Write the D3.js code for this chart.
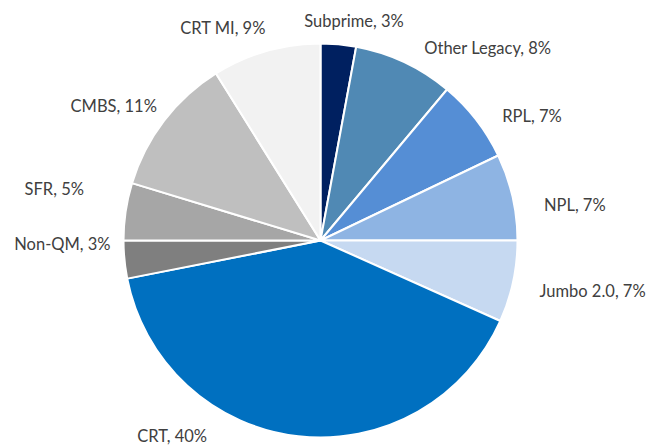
<!DOCTYPE html>
<html>
<head>
<meta charset="utf-8">
<script src="https://cdn.jsdelivr.net/npm/d3@7/dist/d3.min.js"></script>
<style>
  html, body { margin: 0; padding: 0; background: #ffffff; }
  svg { display: block; }
</style>
</head>
<body>
<div id="chart"></div>
<script>
// ---- data ----
const categories = ["Subprime", "Other Legacy", "RPL", "NPL", "Jumbo 2.0", "CRT", "Non-QM", "SFR", "CMBS", "CRT MI"];
const shares = [2.9, 8.2, 6.8, 7.1, 6.7, 40.2, 3.1, 4.7, 11.4, 8.9];
const colors = ["#002060", "#5089B4", "#558ED5", "#8EB4E3", "#C6D9F1", "#0070C0", "#7F7F7F", "#A6A6A6", "#BFBFBF", "#F2F2F2"];

// ---- layout ----
const W = 663, H = 445;
const cx = 320.5, cy = 240.5, R = 197;
const labelR = 225;

// label placement tweaks (Excel "best fit" placement)
const labelTweak = {
  "Subprime":     { anchor: "middle", dx: 13,  dy: 11 },
  "Other Legacy": { anchor: "start",  dx: 8,   dy: 17 },
  "RPL":          { anchor: "start",  dx: 4,   dy: 19 },
  "NPL":          { anchor: "start",  dx: 4,   dy: 20 },
  "Jumbo 2.0":    { anchor: "start",  dx: -1,  dy: 9 },
  "CRT":          { anchor: "middle", dx: -123, dy: -22 },
  "Non-QM":       { anchor: "end",    dx: 14,  dy: -12 },
  "SFR":          { anchor: "end",    dx: -14, dy: -12 },
  "CMBS":         { anchor: "end",    dx: 15,  dy: 8 },
  "CRT MI":       { anchor: "end",    dx: 7,   dy: 10 }
};

const data = categories.map((c, i) => ({ name: c, value: shares[i], color: colors[i] }));
const total = d3.sum(shares);

const svg = d3.select("#chart").append("svg")
  .attr("width", W).attr("height", H);

const g = svg.append("g").attr("transform", `translate(${cx},${cy})`);

const pie = d3.pie().sort(null).value(d => d.value).startAngle(0).endAngle(2 * Math.PI);
const arcs = pie(data);

const arc = d3.arc().innerRadius(0).outerRadius(R);
const labelArc = d3.arc().innerRadius(labelR).outerRadius(labelR);

g.selectAll("path.slice")
  .data(arcs)
  .join("path")
  .attr("class", "slice")
  .attr("d", arc)
  .attr("fill", d => d.data.color)
  .attr("stroke", "#ffffff")
  .attr("stroke-width", 2)
  .attr("stroke-linejoin", "round");

g.selectAll("text.label")
  .data(arcs)
  .join("text")
  .attr("class", "label")
  .attr("x", d => labelArc.centroid(d)[0] + labelTweak[d.data.name].dx)
  .attr("y", d => labelArc.centroid(d)[1] + labelTweak[d.data.name].dy)
  .attr("text-anchor", d => labelTweak[d.data.name].anchor)
  .attr("font-family", "Lato, 'Open Sans', sans-serif")
  .attr("font-size", 16.5)
  .attr("fill", "#404040")
  .text(d => `${d.data.name}, ${Math.round(d.data.value / total * 100)}%`);
</script>
</body>
</html>
